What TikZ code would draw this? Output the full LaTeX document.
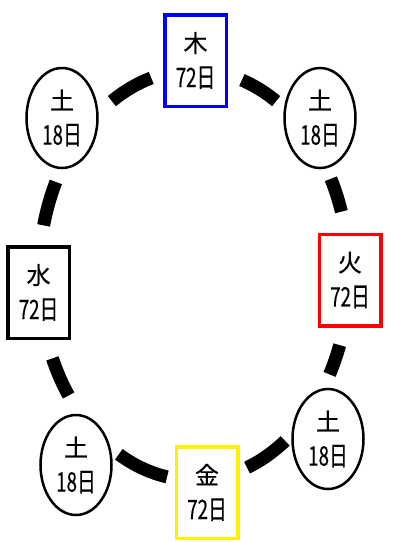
\documentclass[tikz,border=0pt]{standalone}
\usepackage{fontspec}
\usepackage{graphicx}
\newfontfamily\jp[FakeBold=0.5]{Noto Sans CJK JP}
\usetikzlibrary{shapes.geometric}
\newcommand\twoline[2]{#1\\\scalebox{0.78}[1.12]{#2}}
\tikzset{
  txt/.style={font=\jp\fontsize{24}{35}\selectfont, align=center, inner sep=0pt},
  kbox/.style={txt, rectangle, line width=3.5pt, minimum width=61.5pt, minimum height=91.5pt, fill=white},
  kell/.style={txt, ellipse, draw=black, line width=2.5pt, minimum width=71pt, minimum height=100pt, fill=white},
  ring/.style={line width=13pt, line cap=butt, black}
}
\begin{document}
\begin{tikzpicture}[x=1pt,y=-1pt]
\useasboundingbox (0,0) rectangle (394,542);
\coordinate (c) at (194,275);
\foreach \a/\b in {106/122, 58/72, 153/166, 18/28, 204/216, -29/-20, 241/260, -70/-54}{
  \draw[ring] ([shift={(c)}]\a:155pt and 205pt) arc[start angle=\a, end angle=\b, x radius=155pt, y radius=205pt];
}
\node[kbox, draw=blue] (moku) at (195.5,60.5) {\twoline{木}{72日}};
\node[kbox, draw=red] (ka) at (350,280) {\twoline{火}{72日}};
\node[kbox, draw=yellow] (kin) at (207,492.5) {\twoline{金}{72日}};
\node[kbox, draw=black] (sui) at (38.5,292.5) {\twoline{水}{72日}};
\node[kell] (do1) at (62,118) {\twoline{土}{18日}};
\node[kell] (do2) at (320,118) {\twoline{土}{18日}};
\node[kell] (do3) at (328,439) {\twoline{土}{18日}};
\node[kell] (do4) at (76,465) {\twoline{土}{18日}};
\end{tikzpicture}
\end{document}
